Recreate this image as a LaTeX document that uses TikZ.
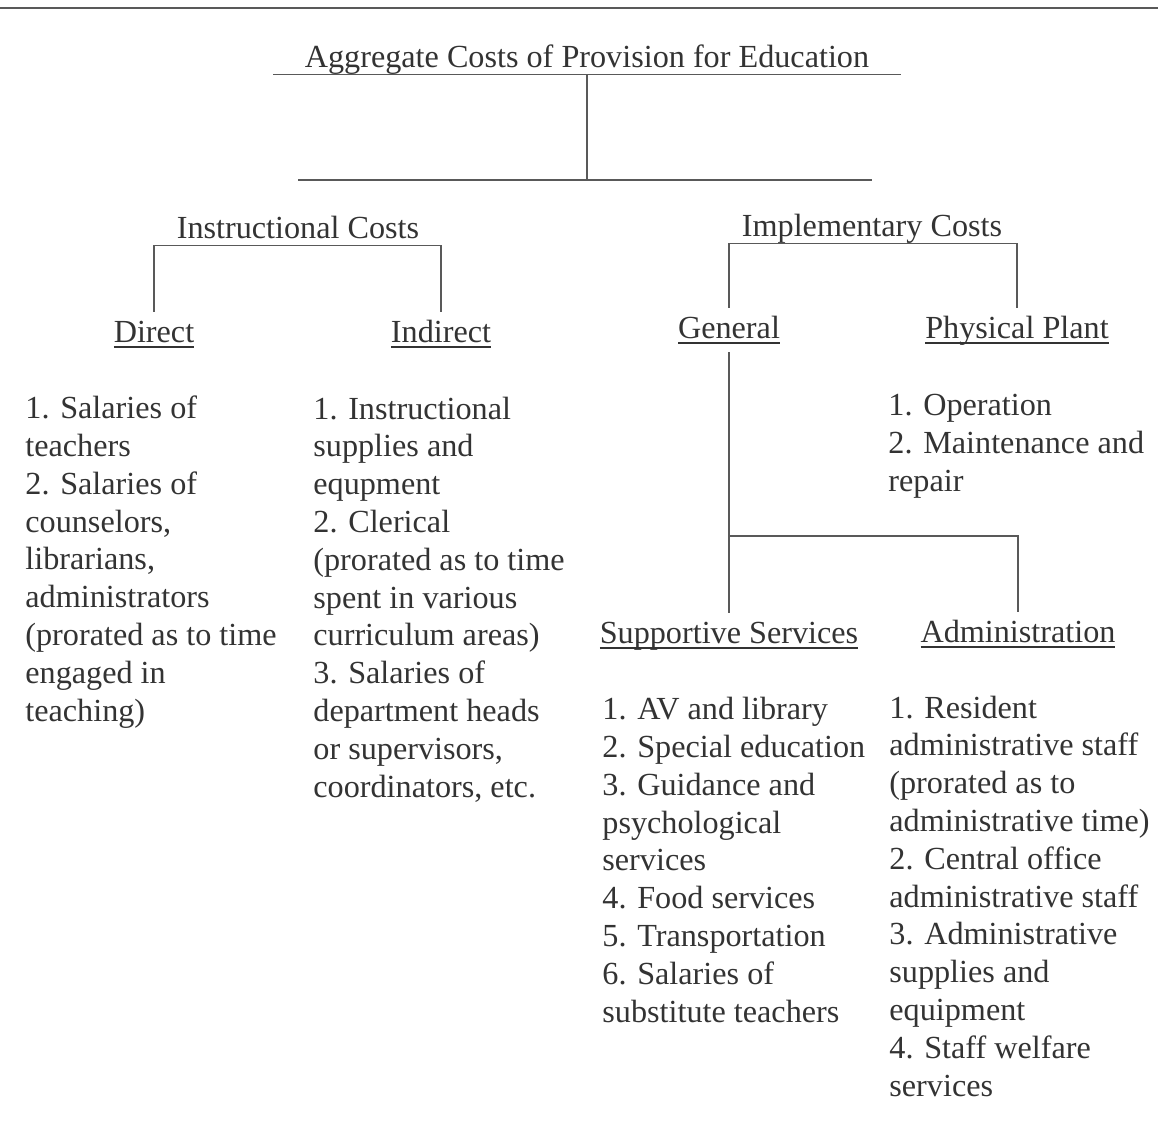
\documentclass[tikz,border=0pt]{standalone}
\usepackage{fontspec}
\setmainfont{Liberation Serif}
\newcommand{\undr}[1]{\setbox0\hbox{#1}\rlap{\raisebox{-3pt}{\rule{\wd0}{0.9pt}}}\box0}
\tikzstyle{every node}=[font=\fontsize{16.1}{18.9}\selectfont,text=black!80]
\tikzstyle{rule}=[black!65,line width=0.9pt]
\tikzstyle{costs}=[anchor=base,inner sep=0pt,text depth=3.5pt]
\tikzstyle{head}=[anchor=base,inner sep=0pt,text height=15pt,text depth=7pt]
\tikzstyle{items}=[anchor=base west,inner sep=0pt,align=left]

\begin{document}
\begin{tikzpicture}[x=0.5pt,y=-0.5pt]
    \useasboundingbox (0,0) rectangle (1158,1137);
    \draw[rule] (0,8)--(1158,8);

    % top of the tree
    \node[costs,minimum width=313.5pt] (agg) at (587,67)
    {Aggregate Costs of Provision for Education};
    \draw[rule] (agg.south west)--(agg.south east);
    \coordinate (split) at (587,180);
    \node[costs] (instr) at (298,238) {Instructional Costs};
    \node[costs] (impl) at (872,236) {Implementary Costs};
    \draw[rule] (agg.south)--(split);
    \draw[rule] (instr |- split)--(impl |- split);

    % instructional side (lists placed by their last line)
    \node[head] (direct) at (154,342) {\undr{Direct}};
    \node[head] (indirect) at (441,342) {\undr{Indirect}};
    \draw[rule] (direct.north) |- (instr.south) -| (indirect.north);
    \node[items] (directlist) at (25,721) {1. Salaries of\\teachers\\2. Salaries of\\counselors,\\librarians,\\administrators\\(prorated as to time\\engaged in\\teaching)};
    \node[items] (indirectlist) at (313,797) {1. Instructional\\supplies and\\equpment\\2. Clerical\\(prorated as to time\\spent in various\\curriculum areas)\\3. Salaries of\\department heads\\or supervisors,\\coordinators, etc.};

    % implementary side
    \node[head] (general) at (729,338) {\undr{General}};
    \node[head] (plant) at (1017,338) {\undr{Physical Plant}};
    \draw[rule] (general.north) |- (impl.south) -| (plant.north);
    \node[items] (plantlist) at (888,491) {1. Operation\\2. Maintenance and\\repair};

    \node[head] (support) at (729,643) {\undr{Supportive Services}};
    \node[head] (admin) at (1018,642) {\undr{Administration}};
    \coordinate (fork) at (729,536);
    \draw[rule] (general.south)--(support.north);
    \draw[rule] (fork) -| (admin.north);
    \node[items] (supportlist) at (602,1022) {1. AV and library\\2. Special education\\3. Guidance and\\psychological\\services\\4. Food services\\5. Transportation\\6. Salaries of\\substitute teachers};
    \node[items] (adminlist) at (889,1096) {1. Resident\\administrative staff\\(prorated as to\\administrative time)\\2. Central office\\administrative staff\\3. Administrative\\supplies and\\equipment\\4. Staff welfare\\services};
  \end{tikzpicture}
\end{document}
